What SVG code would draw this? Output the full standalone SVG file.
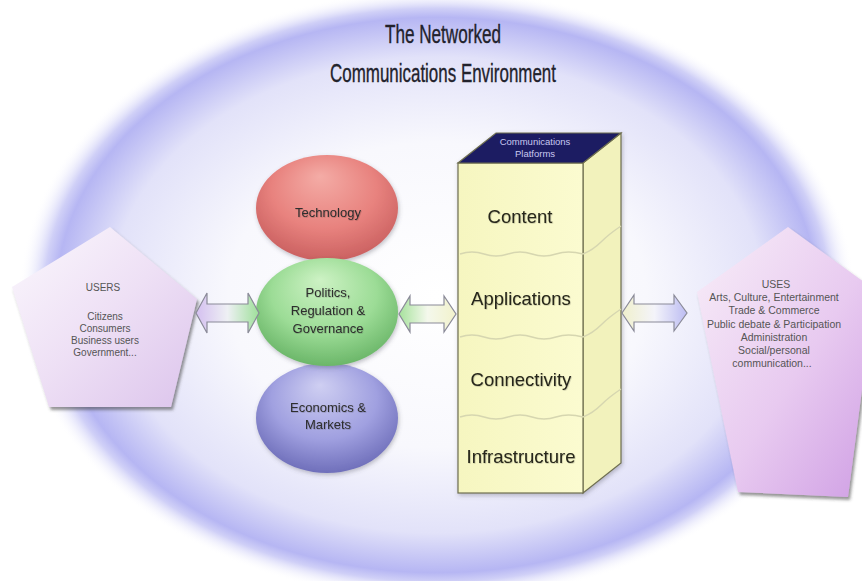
<svg xmlns="http://www.w3.org/2000/svg" width="862" height="581" viewBox="0 0 862 581">
  <defs>
    <radialGradient id="envFill" cx="437" cy="295" r="418" gradientUnits="userSpaceOnUse" gradientTransform="translate(437 295) scale(1 0.73) translate(-437 -295)">
      <stop offset="0" stop-color="#ffffff"/>
      <stop offset="0.5" stop-color="#f8f8fd"/>
      <stop offset="0.78" stop-color="#e2e2f9"/>
      <stop offset="0.91" stop-color="#b6b6f3"/>
      <stop offset="0.94" stop-color="#d0d0f7"/>
      <stop offset="1" stop-color="#ffffff" stop-opacity="0"/>
    </radialGradient>
    <linearGradient id="usersFill" x1="0" y1="0" x2="1" y2="1">
      <stop offset="0" stop-color="#fbf8fd"/>
      <stop offset="0.5" stop-color="#eee0f5"/>
      <stop offset="1" stop-color="#dcc4ec"/>
    </linearGradient>
    <linearGradient id="usesFill" x1="0" y1="0" x2="1" y2="1">
      <stop offset="0" stop-color="#f8eef8"/>
      <stop offset="0.55" stop-color="#e8caf0"/>
      <stop offset="1" stop-color="#cf9ee4"/>
    </linearGradient>
    <radialGradient id="redBall" cx="0.5" cy="0.4" r="0.62" fx="0.45" fy="0.2">
      <stop offset="0" stop-color="#f4aca6"/>
      <stop offset="0.6" stop-color="#e8827e"/>
      <stop offset="1" stop-color="#c95f5f"/>
    </radialGradient>
    <radialGradient id="greenBall" cx="0.5" cy="0.4" r="0.62" fx="0.45" fy="0.2">
      <stop offset="0" stop-color="#cdf2c4"/>
      <stop offset="0.6" stop-color="#9cdc96"/>
      <stop offset="1" stop-color="#68b466"/>
    </radialGradient>
    <radialGradient id="blueBall" cx="0.5" cy="0.4" r="0.62" fx="0.45" fy="0.2">
      <stop offset="0" stop-color="#cfcff2"/>
      <stop offset="0.6" stop-color="#a0a0e0"/>
      <stop offset="1" stop-color="#6c6cb8"/>
    </radialGradient>
    <linearGradient id="arrowA" x1="0" y1="0" x2="1" y2="0">
      <stop offset="0" stop-color="#d4bff0"/>
      <stop offset="0.5" stop-color="#eef0f4"/>
      <stop offset="1" stop-color="#9ee09a"/>
    </linearGradient>
    <linearGradient id="arrowB" x1="0" y1="0" x2="1" y2="0">
      <stop offset="0" stop-color="#a6e29c"/>
      <stop offset="0.5" stop-color="#f4f8ec"/>
      <stop offset="1" stop-color="#f2f2cc"/>
    </linearGradient>
    <linearGradient id="arrowC" x1="0" y1="0" x2="1" y2="0">
      <stop offset="0" stop-color="#f0f0cc"/>
      <stop offset="0.5" stop-color="#f4f4fa"/>
      <stop offset="1" stop-color="#bcbcf2"/>
    </linearGradient>
    <linearGradient id="frontFill" x1="0" y1="0" x2="1" y2="0">
      <stop offset="0" stop-color="#f6f6c0"/>
      <stop offset="1" stop-color="#fbfbd0"/>
    </linearGradient>
    <filter id="shadow" x="-10%" y="-10%" width="125%" height="125%">
      <feDropShadow dx="2" dy="3" stdDeviation="1.6" flood-color="#404040" flood-opacity="0.55"/>
    </filter>
    <filter id="soft" x="-10%" y="-10%" width="120%" height="120%">
      <feDropShadow dx="1" dy="2" stdDeviation="2" flood-color="#505060" flood-opacity="0.35"/>
    </filter>
    <filter id="textShade" x="-5%" y="-20%" width="110%" height="140%">
      <feDropShadow dx="0.6" dy="0.6" stdDeviation="0.4" flood-color="#000" flood-opacity="0.25"/>
    </filter>
  </defs>
  <style>
    text { font-family: "Liberation Sans", Arial, sans-serif; text-anchor: middle; }
    .title { font-size: 26px; fill: #22222c; stroke: #22222c; stroke-width: 0.35; }
    .ball { font-size: 13px; fill: #2e2e2e; }
    .layer { font-size: 18.5px; fill: #26261a; }
    .plat { font-size: 9.5px; fill: #c8c8f0; }
    .small { font-size: 10px; fill: #555; }
    .uses { font-size: 10.5px; fill: #555; }
    .arrow { stroke: #8a8a98; stroke-width: 1.2; stroke-linejoin: miter; }
    .wave { fill: none; stroke: #d6d6b0; stroke-width: 1.4; }
    .edge { stroke: #6e6e50; stroke-width: 1.2; }
  </style>

  <rect width="862" height="581" fill="#ffffff"/>

  <!-- environment -->
  <g id="environment">
    <ellipse cx="437" cy="295" rx="418" ry="306" fill="url(#envFill)"/>
    <text class="title" x="443" y="43" textLength="116" lengthAdjust="spacingAndGlyphs">The Networked</text>
    <text class="title" x="443" y="82" textLength="226" lengthAdjust="spacingAndGlyphs">Communications Environment</text>
  </g>

  <!-- users -->
  <g id="users">
    <polygon points="110,227 197,299 171,407 49,407 12,287" fill="url(#usersFill)" filter="url(#shadow)"/>
    <text class="small" x="103" y="291">USERS</text>
    <text class="small" x="105" y="320">Citizens</text>
    <text class="small" x="105" y="332">Consumers</text>
    <text class="small" x="105" y="344">Business users</text>
    <text class="small" x="105" y="356">Government...</text>
  </g>

  <!-- uses -->
  <g id="uses">
    <polygon points="788,227 875,290 848,497 738,492 697,292" fill="url(#usesFill)" filter="url(#shadow)"/>
    <text class="uses" x="776" y="288">USES</text>
    <text class="uses" x="774" y="301">Arts, Culture, Entertainment</text>
    <text class="uses" x="774" y="314">Trade &amp; Commerce</text>
    <text class="uses" x="774" y="328">Public debate &amp; Participation</text>
    <text class="uses" x="774" y="341">Administration</text>
    <text class="uses" x="774" y="354">Social/personal</text>
    <text class="uses" x="772" y="367">communication...</text>
  </g>

  <!-- technology -->
  <g id="technology">
    <ellipse cx="327" cy="208" rx="71" ry="53" fill="url(#redBall)" filter="url(#soft)"/>
    <text class="ball" x="328" y="217" filter="url(#textShade)">Technology</text>
  </g>

  <!-- economics -->
  <g id="economics">
    <ellipse cx="327" cy="418" rx="71" ry="55" fill="url(#blueBall)" filter="url(#soft)"/>
    <text class="ball" x="328" y="412" filter="url(#textShade)">Economics &amp;</text>
    <text class="ball" x="328" y="429" filter="url(#textShade)">Markets</text>
  </g>

  <!-- politics -->
  <g id="politics">
    <ellipse cx="327" cy="312" rx="71" ry="54" fill="url(#greenBall)" filter="url(#soft)"/>
    <text class="ball" x="328" y="297" filter="url(#textShade)">Politics,</text>
    <text class="ball" x="328" y="315" filter="url(#textShade)">Regulation &amp;</text>
    <text class="ball" x="328" y="333" filter="url(#textShade)">Governance</text>
  </g>

  <!-- communications platforms -->
  <g id="platforms">
    <g filter="url(#soft)">
      <polygon points="583,163 621,133 621,463 583,493" fill="#f2f2bc" class="edge"/>
      <rect x="458" y="163" width="125" height="330" fill="url(#frontFill)" class="edge"/>
      <polygon points="458,163 583,163 621,133 496,133" fill="#1c1c62" class="edge"/>
    </g>
    <path class="wave" d="M460,254 q12,-4 24,0 t24,0 t24,0 t24,0 t27,0"/>
    <path class="wave" d="M583,254 q10,-4 18,-12 t20,-16"/>
    <path class="wave" d="M460,337 q12,-4 24,0 t24,0 t24,0 t24,0 t27,0"/>
    <path class="wave" d="M583,337 q10,-4 18,-12 t20,-16"/>
    <path class="wave" d="M460,417 q12,-4 24,0 t24,0 t24,0 t24,0 t27,0"/>
    <path class="wave" d="M583,417 q10,-4 18,-12 t20,-16"/>
    <text class="plat" x="535" y="145">Communications</text>
    <text class="plat" x="535" y="157">Platforms</text>
    <text class="layer" x="520" y="223" filter="url(#textShade)">Content</text>
    <text class="layer" x="521" y="305" filter="url(#textShade)">Applications</text>
    <text class="layer" x="521" y="386" filter="url(#textShade)">Connectivity</text>
    <text class="layer" x="521" y="463" filter="url(#textShade)">Infrastructure</text>
  </g>

  <!-- connectors -->
  <g id="connectors">
    <path class="arrow" fill="url(#arrowA)" d="M196,313 L207,293 L207,304 L248,304 L248,293 L259,313 L248,333 L248,322 L207,322 L207,333 Z"/>
    <path class="arrow" fill="url(#arrowB)" d="M399,314 L410,296 L410,305 L444,305 L444,296 L456,314 L444,332 L444,323 L410,323 L410,332 Z"/>
    <path class="arrow" fill="url(#arrowC)" d="M622,313 L634,295 L634,304 L674,304 L674,295 L687,313 L674,331 L674,322 L634,322 L634,331 Z"/>
  </g>
</svg>
